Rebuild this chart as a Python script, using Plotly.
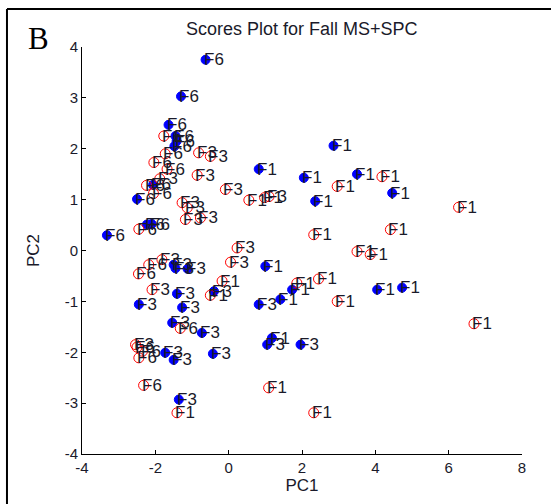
import plotly.graph_objects as go

# PCA scores, grouped by marker style; each point carries its sample label
blue_f6_x = [-0.63, -1.30, -1.64, -1.45, -1.42, -1.48, -2.50, -2.06, -2.23, -2.10, -3.32]
blue_f6_y = [3.75, 3.03, 2.47, 2.25, 2.15, 2.05, 1.01, 1.29, 0.51, 0.52, 0.30]

blue_f3_x = [-1.50, -1.45, -1.12, -1.41, -2.45, -1.27, -1.54, -0.73, -1.73, -1.50, -0.43, -1.36, 0.82, 1.05, 1.96, -0.40]
blue_f3_y = [-0.28, -0.35, -0.36, -0.85, -1.06, -1.12, -1.42, -1.62, -2.01, -2.15, -2.03, -2.93, -1.06, -1.85, -1.85, -0.80]

blue_f1_x = [0.82, 2.05, 2.86, 2.36, 3.50, 4.46, 4.05, 4.73, 1.00, 1.41, 1.73, 1.18]
blue_f1_y = [1.60, 1.43, 2.06, 0.97, 1.50, 1.13, -0.77, -0.73, -0.31, -0.96, -0.77, -1.72]

red_f1_x = [2.96, 4.18, 6.27, 4.41, 2.32, 0.55, 0.98, 3.50, 3.86, 2.96, 6.69, 1.86, 2.45, -0.18, -0.50, 1.09, 2.32, -1.41]
red_f1_y = [1.26, 1.45, 0.85, 0.41, 0.31, 0.99, 1.04, -0.02, -0.08, -1.00, -1.44, -0.64, -0.56, -0.60, -0.88, -2.70, -3.19, -3.19]

red_f3_x = [-0.82, -0.50, -0.86, -0.09, -1.27, -1.13, -1.18, -0.77, -1.88, 1.10, 0.23, 0.05, -2.09, -1.82, -2.54]
red_f3_y = [1.92, 1.85, 1.48, 1.20, 0.94, 0.84, 0.61, 0.64, 1.41, 1.06, 0.05, -0.23, -0.77, -0.18, -1.85]

red_f6_x = [-1.77, -1.73, -2.04, -1.68, -2.24, -2.05, -2.45, -2.18, -2.46, -1.32, -2.50, -2.35, -2.45, -2.32]
red_f6_y = [2.25, 1.90, 1.73, 1.60, 1.28, 1.12, 0.42, -0.28, -0.46, -1.53, -1.90, -1.98, -2.11, -2.65]

x_ticks = [-4, -2, 0, 2, 4, 6, 8]
y_ticks = [-4, -3, -2, -1, 0, 1, 2, 3, 4]

title_text = "Scores Plot for Fall MS+SPC"
panel_letter = "B"

blue_groups = [("F6", blue_f6_x, blue_f6_y), ("F3", blue_f3_x, blue_f3_y), ("F1", blue_f1_x, blue_f1_y)]
red_groups = [("F1", red_f1_x, red_f1_y), ("F3", red_f3_x, red_f3_y), ("F6", red_f6_x, red_f6_y)]

SANS = "Liberation Sans, Arial, sans-serif"
INK = "#1a1a2a"

fig = go.Figure()

bx, by = [], []
for _, xs, ys in blue_groups:
    bx += xs
    by += ys
fig.add_trace(go.Scatter(
    x=bx, y=by, mode="markers", showlegend=False,
    marker=dict(symbol="circle", size=9, color="#0000ff", line=dict(color="#0000ff", width=1)),
))

rx, ry = [], []
for _, xs, ys in red_groups:
    rx += xs
    ry += ys
fig.add_trace(go.Scatter(
    x=rx, y=ry, mode="markers", showlegend=False,
    marker=dict(symbol="circle-open", size=10, color="#ff0000", line=dict(width=1)),
))

label_font = dict(family=SANS, size=17, color=INK)
annotations = []
for label, xs, ys in blue_groups + red_groups:
    for xv, yv in zip(xs, ys):
        annotations.append(dict(
            x=xv, y=yv, xref="x", yref="y", text=label, showarrow=False,
            xanchor="left", yanchor="middle", xshift=-3, borderpad=0,
            font=label_font,
        ))

annotations.append(dict(
    x=0.5, y=1.0, xref="paper", yref="paper", yshift=18, text=title_text,
    showarrow=False, xanchor="center", yanchor="middle",
    font=dict(family=SANS, size=18, color=INK),
))
annotations.append(dict(
    x=-0.10, y=1.0, xref="paper", yref="paper", yshift=9, text=panel_letter,
    showarrow=False, xanchor="center", yanchor="middle",
    font=dict(family="Liberation Serif, Times New Roman, serif", size=31, color="#000000"),
))

tick_font = dict(family=SANS, size=15, color=INK)

fig.update_layout(
    width=551, height=504,
    margin=dict(l=82, r=29, t=47, b=50),
    paper_bgcolor="white", plot_bgcolor="white",
    annotations=annotations,
    xaxis=dict(
        range=[-4, 8], tickvals=x_ticks, ticktext=[str(v) for v in x_ticks],
        ticks="inside", ticklen=4, tickcolor="#000", showline=True, linecolor="#000",
        linewidth=1, showgrid=False, zeroline=False, tickfont=tick_font,
        title=dict(text="PC1", font=dict(family=SANS, size=17, color=INK), standoff=4),
        mirror=False,
    ),
    yaxis=dict(
        range=[-4, 4], tickvals=y_ticks, ticktext=[str(v) for v in y_ticks],
        ticks="inside", ticklen=4, tickcolor="#000", showline=True, linecolor="#000",
        linewidth=1, showgrid=False, zeroline=False, tickfont=tick_font,
        title=dict(text="PC2", font=dict(family=SANS, size=17, color=INK), standoff=20),
        mirror=False,
    ),
    shapes=[
        dict(type="line", xref="paper", yref="paper", x0=-0.1705, x1=-0.1705, y0=-0.2, y1=1.0934,
             line=dict(color="#000", width=2)),
        dict(type="line", xref="paper", yref="paper", x0=-0.1705, x1=1.2, y0=1.0934, y1=1.0934,
             line=dict(color="#000", width=2)),
    ],
)

fig.write_html("out.html")
